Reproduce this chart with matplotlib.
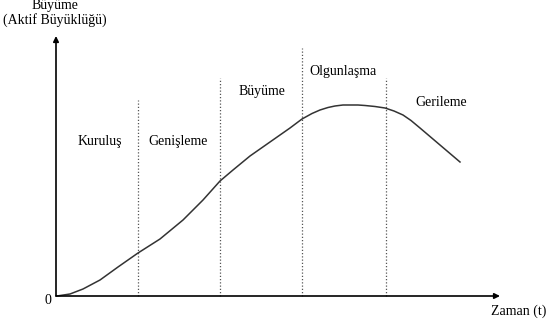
import matplotlib.pyplot as plt

# growth curve (time, asset size)
time = [1, 14, 27, 44, 62, 82, 104, 127, 147, 164, 177, 194, 214, 234, 246,
        256, 264, 272, 279, 287, 294, 302, 309, 319, 329, 338, 347, 355, 364,
        374, 384, 394, 404]
size = [0, 2, 7, 16, 29, 43, 57, 76, 96, 115, 126, 140, 154, 168, 177,
        182.5, 186, 188.5, 190, 191, 191, 191, 190.5, 189.5, 188, 185, 181,
        175.5, 168, 159.5, 151, 142.5, 134]

# phase boundaries and how high each dotted line goes
bounds = [82, 164, 246, 330]
bound_tops = [196, 218, 248, 218]

phases = ['Kuruluş', 'Genişleme', 'Büyüme', 'Olgunlaşma', 'Gerileme']
phase_x = [44, 122, 206, 287, 385]
phase_y = [155, 155, 204, 224, 193]

plt.rcParams['font.family'] = ['Liberation Serif', 'DejaVu Serif']

fig = plt.figure(figsize=(5.5, 3.23), dpi=100)
ax = fig.add_axes([0, 0, 1, 1])
ax.set_xlim(-56, 494)
ax.set_ylim(-27, 296)
ax.axis('off')

# axes with arrow heads
ax.annotate('', xy=(0, 260), xytext=(0, 0),
            arrowprops=dict(arrowstyle='-|>', color='black', lw=1.2,
                            mutation_scale=8, shrinkA=0, shrinkB=0))
ax.annotate('', xy=(444, 0), xytext=(0, 0),
            arrowprops=dict(arrowstyle='-|>', color='black', lw=1.2,
                            mutation_scale=8, shrinkA=0, shrinkB=0))

for b, top in zip(bounds, bound_tops):
    ax.plot([b, b], [0, top], color='#555555', lw=0.9, ls=(0, (1, 1.6)))

ax.plot(time, size, color='#333333', lw=1.1)

for name, x, y in zip(phases, phase_x, phase_y):
    ax.text(x, y, name, ha='center', va='center', fontsize=10)

ax.text(-1, 290, 'Büyüme', ha='center', va='center', fontsize=10)
ax.text(-1, 275.5, '(Aktif Büyüklüğü)', ha='center', va='center', fontsize=10)
ax.text(-8, -4, '0', ha='center', va='center', fontsize=10)
ax.text(463, -15, 'Zaman (t)', ha='center', va='center', fontsize=10)

fig.savefig('out.png', dpi=100)
